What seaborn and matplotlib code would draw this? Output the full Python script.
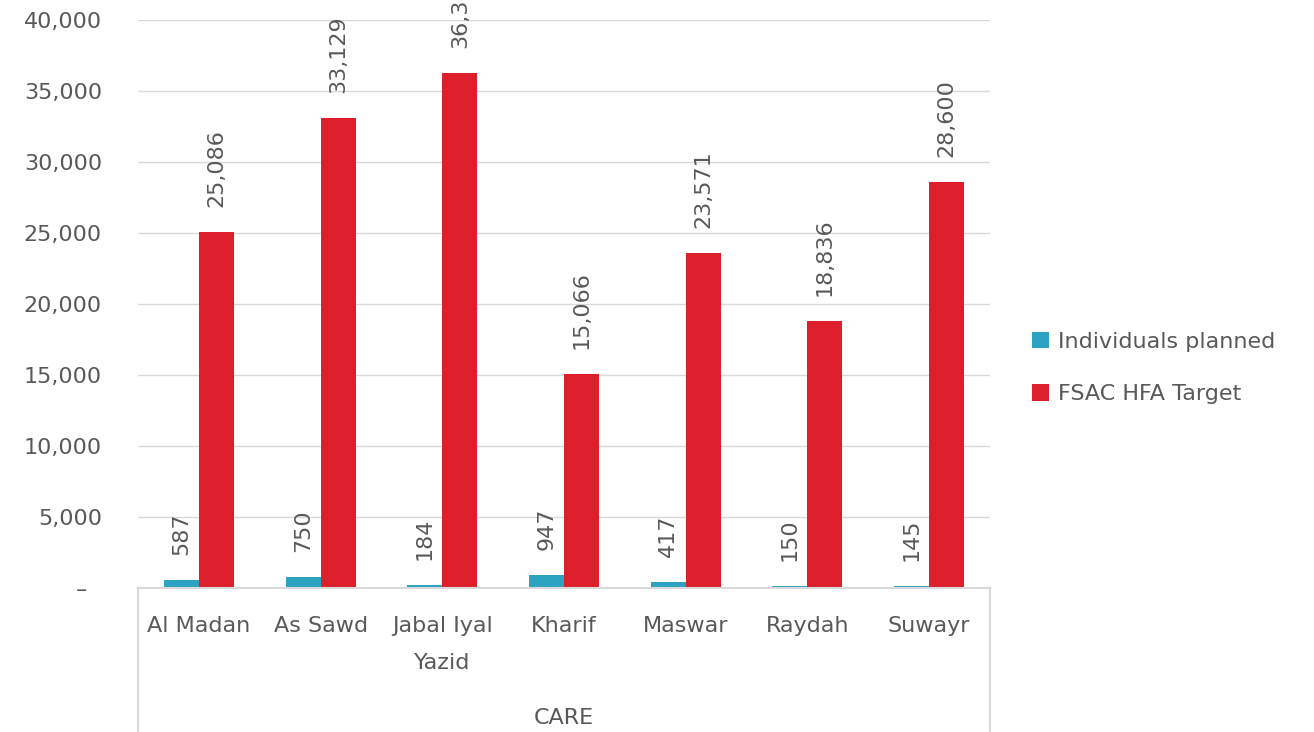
import matplotlib
matplotlib.use("Agg")
import matplotlib.pyplot as plt
import seaborn as sns
import pandas as pd

districts = ["Al Madan", "As Sawd", "Jabal Iyal\nYazid", "Kharif", "Maswar", "Raydah", "Suwayr"]
individuals_planned = [587, 750, 184, 947, 417, 150, 145]
fsac_target = [25086, 33129, 36300, 15066, 23571, 18836, 28600]
series_names = ["Individuals planned", "FSAC HFA Target"]
group_label = "CARE"

df = pd.DataFrame({
    "district": districts * 2,
    "value": individuals_planned + fsac_target,
    "series": [series_names[0]] * len(districts) + [series_names[1]] * len(districts),
})

sns.set_style("white")
plt.rcParams["font.family"] = ["DejaVu Sans"]
text_col = "#595959"
grid_col = "#d9d9d9"
fs = 16

fig = plt.figure(figsize=(13.14, 7.32), dpi=100)
ax = fig.add_axes([138 / 1314, 1 - 588 / 732, 852 / 1314, 568 / 732])

sns.barplot(data=df, x="district", y="value", hue="series",
            palette=["#2ea3c1", "#dc1f2b"], width=0.575, gap=0,
            saturation=1, linewidth=0, ax=ax)

ax.set_xlim(-0.5, len(districts) - 0.5)
ax.set_ylim(0, 40000)
ax.set_yticks(range(0, 40001, 5000))
ax.yaxis.set_major_formatter(
    matplotlib.ticker.FuncFormatter(lambda v, p: "–  " if v == 0 else f"{v:,.0f}"))
ax.grid(axis="y", color=grid_col, lw=1)
ax.set_axisbelow(True)
ax.set_xlabel("")
ax.set_ylabel("")
for s in ["left", "right", "top"]:
    ax.spines[s].set_visible(False)
ax.spines["bottom"].set_color(grid_col)
ax.spines["bottom"].set_linewidth(1.5)

ax.tick_params(axis="y", length=0, pad=26, labelsize=fs, labelcolor=text_col)
ax.tick_params(axis="x", length=0, pad=20, labelsize=fs, labelcolor=text_col)
for t in ax.get_xticklabels():
    t.set_linespacing(2.08)

for cont in ax.containers:
    ax.bar_label(cont, labels=[f"{v:,.0f}" for v in cont.datavalues],
                 padding=18, rotation=90, fontsize=fs, color=text_col)

# group separator lines and label
for x in [0, 1]:
    ax.plot([x, x], [0, -0.26], transform=ax.transAxes, color=grid_col,
            lw=1.5, clip_on=False)
ax.text(0.5, -0.228, group_label, transform=ax.transAxes, ha="center",
        va="center", fontsize=fs, color=text_col)

ax.get_legend().remove()
handles, labels = ax.get_legend_handles_labels()
fig.legend(handles, labels, loc="center left",
           bbox_to_anchor=(1012 / 1314, 1 - 368 / 732), frameon=False,
           handlelength=0.75, handleheight=0.75, handletextpad=0.4,
           labelspacing=1.45, fontsize=fs, labelcolor=text_col)

fig.savefig("out.png", dpi=100)
